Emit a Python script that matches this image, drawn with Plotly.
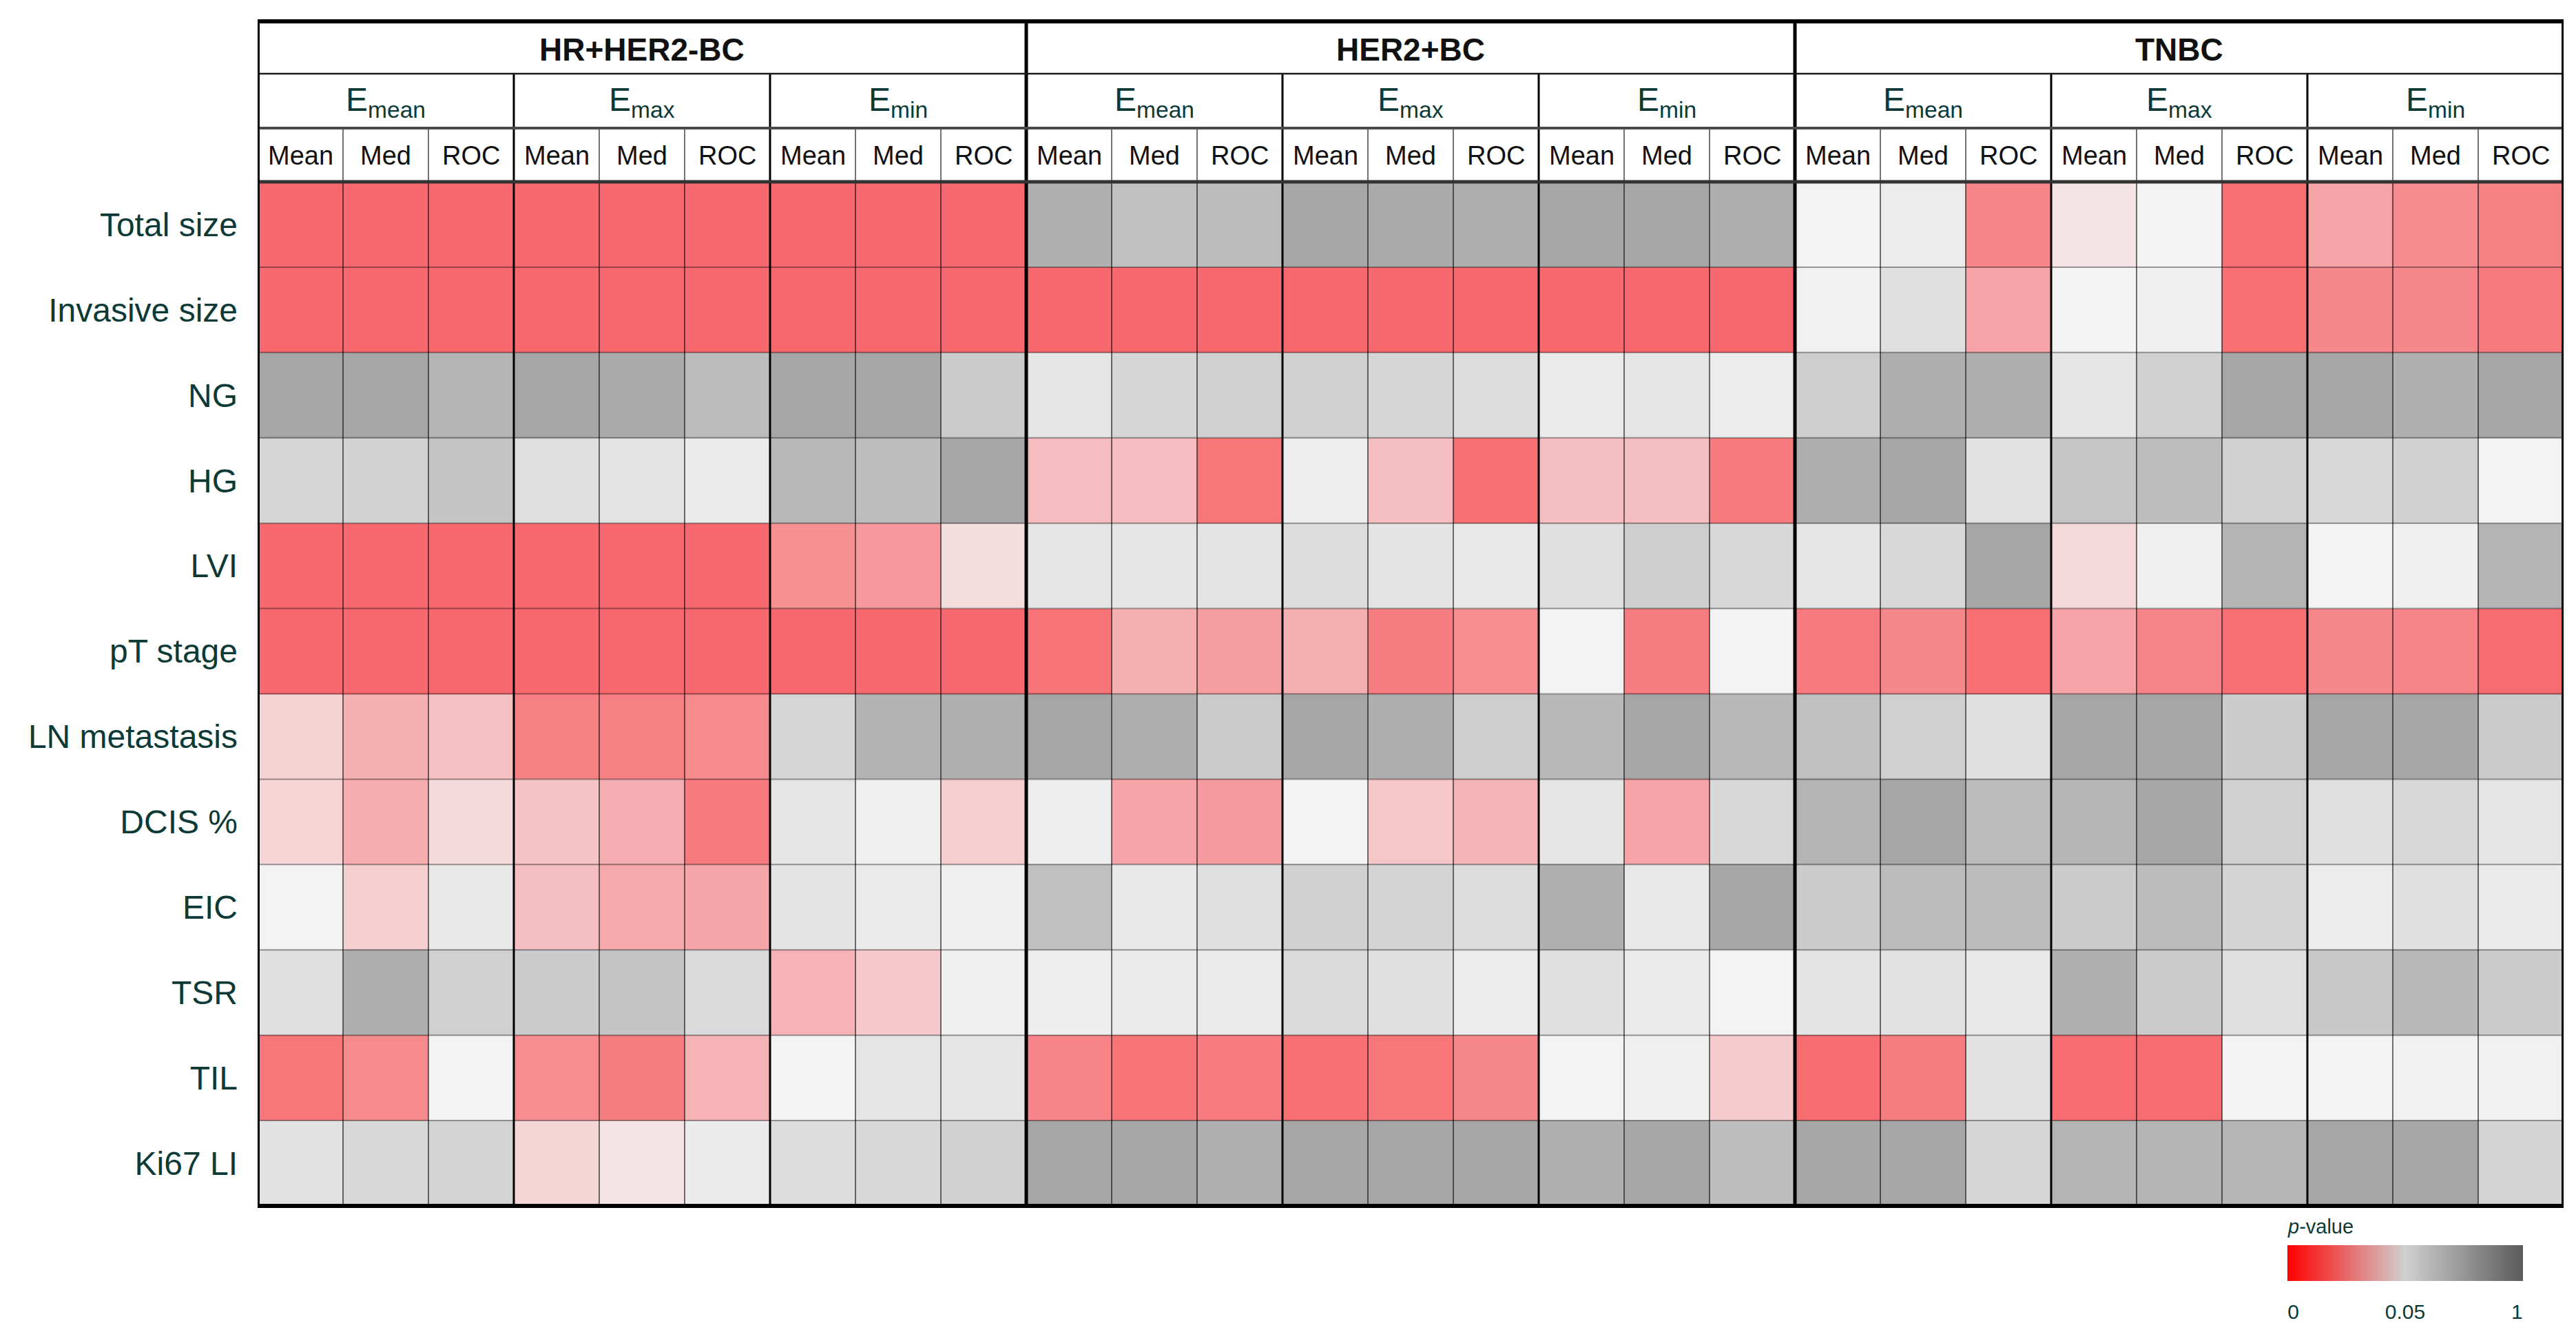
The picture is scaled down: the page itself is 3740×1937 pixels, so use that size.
import plotly.graph_objects as go

# ---------------- data ----------------
row_labels = ["Total size", "Invasive size", "NG", "HG", "LVI", "pT stage",
              "LN metastasis", "DCIS %", "EIC", "TSR", "TIL", "Ki67 LI"]
subtypes = ["HR+HER2-BC", "HER2+BC", "TNBC"]
metrics = ["mean", "max", "min"]
stats = ["Mean", "Med", "ROC"]

# p-values (rows x [Emean Mean/Med/ROC, Emax Mean/Med/ROC, Emin Mean/Med/ROC])
p_hr = [
    [0.001, 0.001, 0.001, 0.001, 0.001, 0.001, 0.001, 0.001, 0.001],
    [0.001, 0.001, 0.001, 0.001, 0.001, 0.001, 0.001, 0.001, 0.001],
    [0.95, 0.95, 0.79, 0.95, 0.91, 0.71, 0.95, 0.95, 0.53],
    [0.40, 0.43, 0.60, 0.28, 0.25, 0.16, 0.74, 0.69, 0.95],
    [0.001, 0.001, 0.001, 0.001, 0.001, 0.001, 0.015, 0.018, 0.042],
    [0.001, 0.001, 0.001, 0.001, 0.001, 0.001, 0.001, 0.001, 0.001],
    [0.038, 0.026, 0.032, 0.009, 0.009, 0.0125, 0.40, 0.80, 0.84],
    [0.039, 0.025, 0.041, 0.033, 0.0255, 0.007, 0.22, 0.10, 0.037],
    [0.06, 0.037, 0.19, 0.031, 0.0235, 0.0225, 0.24, 0.17, 0.10],
    [0.28, 0.86, 0.47, 0.51, 0.60, 0.35, 0.027, 0.035, 0.10],
    [0.0055, 0.0125, 0.06, 0.014, 0.0085, 0.027, 0.06, 0.22, 0.22],
    [0.26, 0.37, 0.42, 0.0395, 0.0445, 0.15, 0.33, 0.37, 0.45],
]
p_her2 = [
    [0.84, 0.65, 0.70, 0.95, 0.91, 0.86, 0.95, 0.95, 0.86],
    [0.001, 0.001, 0.001, 0.001, 0.001, 0.001, 0.001, 0.001, 0.001],
    [0.22, 0.40, 0.47, 0.47, 0.40, 0.33, 0.17, 0.22, 0.14],
    [0.0305, 0.0305, 0.0055, 0.12, 0.031, 0.003, 0.031, 0.031, 0.007],
    [0.22, 0.22, 0.24, 0.33, 0.24, 0.19, 0.28, 0.49, 0.37],
    [0.005, 0.026, 0.0195, 0.026, 0.0085, 0.014, 0.06, 0.0085, 0.06],
    [0.95, 0.86, 0.53, 0.95, 0.86, 0.49, 0.74, 0.95, 0.74],
    [0.12, 0.022, 0.019, 0.06, 0.034, 0.0275, 0.22, 0.022, 0.37],
    [0.65, 0.19, 0.28, 0.45, 0.42, 0.33, 0.84, 0.19, 0.95],
    [0.12, 0.17, 0.17, 0.35, 0.28, 0.14, 0.28, 0.17, 0.06],
    [0.0105, 0.005, 0.0075, 0.003, 0.0055, 0.012, 0.06, 0.10, 0.036],
    [0.95, 0.95, 0.84, 0.95, 0.95, 0.95, 0.84, 0.95, 0.68],
]
p_tnbc = [
    [0.06, 0.14, 0.0105, 0.0445, 0.06, 0.003, 0.022, 0.0135, 0.010],
    [0.08, 0.28, 0.022, 0.055, 0.10, 0.003, 0.012, 0.012, 0.007],
    [0.49, 0.86, 0.86, 0.22, 0.45, 0.95, 0.95, 0.84, 0.95],
    [0.86, 0.95, 0.26, 0.58, 0.68, 0.45, 0.37, 0.45, 0.06],
    [0.22, 0.37, 0.95, 0.04, 0.10, 0.79, 0.06, 0.10, 0.79],
    [0.007, 0.012, 0.003, 0.022, 0.0105, 0.003, 0.012, 0.0105, 0.002],
    [0.65, 0.47, 0.28, 0.95, 0.95, 0.51, 0.95, 0.95, 0.53],
    [0.79, 0.95, 0.70, 0.77, 0.95, 0.47, 0.28, 0.37, 0.22],
    [0.51, 0.70, 0.70, 0.51, 0.70, 0.42, 0.14, 0.28, 0.17],
    [0.24, 0.26, 0.19, 0.84, 0.51, 0.28, 0.56, 0.74, 0.51],
    [0.002, 0.0085, 0.26, 0.002, 0.0025, 0.06, 0.06, 0.08, 0.08],
    [0.95, 0.95, 0.40, 0.79, 0.79, 0.77, 0.95, 0.95, 0.42],
]

colorbar_ticks = ["0", "0.05", "1"]

# ---------------- helpers ----------------
W, H = 3740, 1937
X0, X1 = 366, 3714      # heatmap pixel extents
Y0, Y1 = 256, 1743


def yp(py):
    return 1 - py / H


def scale_pos(p):
    # colour-scale position: 0 -> 0, 0.05 -> 0.5, 1 -> 1
    if p <= 0.05:
        return 0.5 * p / 0.05
    return 0.5 + 0.5 * (p - 0.05) / 0.95


z, hover = [], []
for r in range(len(row_labels)):
    vals = p_hr[r] + p_her2[r] + p_tnbc[r]
    z.append([scale_pos(v) for v in vals])
    hover.append([f"p = {v}" for v in vals])

ncol = 27
xs = list(range(ncol))

FONT = "Liberation Sans, Arial, sans-serif"
TEAL = "#0d3a36"

fig = go.Figure()
fig.add_trace(go.Heatmap(
    z=z, x=xs, y=row_labels, text=hover, hoverinfo="text+y",
    zmin=0, zmax=1, showscale=False,
    colorscale=[[0, "#f7666b"], [0.5, "#f4f4f4"], [1, "#a2a2a2"]],
))
# colour bar (full-strength legend colours)
fig.add_trace(go.Scatter(
    x=[None], y=[None], mode="markers", showlegend=False, hoverinfo="skip",
    marker=dict(color=[0], cmin=0, cmax=1, showscale=True,
                colorscale=[[0, "#ff0000"], [0.5, "#d0d0d0"], [1, "#5a5c5a"]],
                colorbar=dict(
                    orientation="h", x=3484 / W, xanchor="center",
                    y=yp(1800), yanchor="top",
                    len=342, lenmode="pixels", thickness=52,
                    outlinewidth=0, xpad=0, ypad=0,
                    tickvals=[0.025, 0.5, 0.975], ticktext=colorbar_ticks,
                    ticks="outside", ticklen=19, tickcolor="rgba(0,0,0,0)",
                    tickfont=dict(family=FONT, size=30, color=TEAL),
                )),
))

shapes = []


def vline(x, ytop_px, color, width):
    shapes.append(dict(type="line", xref="x", yref="paper", x0=x, x1=x,
                       y0=yp(Y1), y1=yp(ytop_px),
                       line=dict(color=color, width=width), layer="above"))


def hline_px(py, color, width):
    shapes.append(dict(type="line", xref="x", yref="paper", x0=-0.5, x1=ncol - 0.5,
                       y0=yp(py), y1=yp(py),
                       line=dict(color=color, width=width), layer="above"))


# row separators
for r in range(1, len(row_labels)):
    shapes.append(dict(type="line", xref="x", yref="y", x0=-0.5, x1=ncol - 0.5,
                       y0=r - 0.5, y1=r - 0.5,
                       line=dict(color="rgba(0,0,0,0.38)", width=2), layer="above"))

# vertical separators
for k in range(1, ncol):
    xb = k - 0.5
    if k % 9 == 0:
        vline(xb, 22, "#000000", 5)
    elif k % 3 == 0:
        vline(xb, 99, "#000000", 3)
    else:
        vline(xb, 177, "rgba(0,0,0,0.55)", 2)

# header horizontal lines
hline_px(99, "#1a1a1a", 2.5)
hline_px(178, "#4a4a4a", 4)
hline_px(256, "#333333", 5)

# outer border
shapes.append(dict(type="rect", xref="x", yref="paper", x0=-0.5, x1=ncol - 0.5,
                   y0=yp(Y1), y1=yp(23), line=dict(color="#000000", width=6),
                   fillcolor="rgba(0,0,0,0)", layer="above"))

annotations = []
for g, name in enumerate(subtypes):
    annotations.append(dict(x=g * 9 + 4, y=yp(64), xref="x", yref="paper",
                            text=f"<b>{name}</b>", showarrow=False,
                            font=dict(family=FONT, size=46, color="#111111"),
                            xanchor="center", yanchor="middle"))
    for m, met in enumerate(metrics):
        annotations.append(dict(x=g * 9 + m * 3 + 1, y=yp(140), xref="x", yref="paper",
                                text=f"E<sub>{met}</sub>", showarrow=False,
                                font=dict(family=FONT, size=48, color=TEAL),
                                xanchor="center", yanchor="middle"))
        for s, st in enumerate(stats):
            annotations.append(dict(x=g * 9 + m * 3 + s, y=yp(218), xref="x", yref="paper",
                                    text=st, showarrow=False,
                                    font=dict(family=FONT, size=38, color="#111111"),
                                    xanchor="center", yanchor="middle"))

# colour bar title, left-aligned with the bar
annotations.append(dict(x=3311 / W, y=yp(1773), xref="paper", yref="paper",
                        text="<i>p</i>-value", showarrow=False,
                        font=dict(family=FONT, size=29, color=TEAL),
                        xanchor="left", yanchor="middle"))

fig.update_layout(
    width=W, height=H, margin=dict(l=0, r=0, t=0, b=0),
    paper_bgcolor="white", plot_bgcolor="white",
    shapes=shapes, annotations=annotations, showlegend=False,
    xaxis=dict(domain=[X0 / W, X1 / W], range=[-0.5, ncol - 0.5],
               showticklabels=False, showgrid=False, zeroline=False, ticks=""),
    yaxis=dict(domain=[yp(Y1), yp(Y0)], autorange="reversed", type="category",
               showgrid=False, zeroline=False, ticks="", ticklabelstandoff=28,
               tickfont=dict(family=FONT, size=48, color=TEAL)),
    font=dict(family=FONT),
)

fig.write_html("out.html")
